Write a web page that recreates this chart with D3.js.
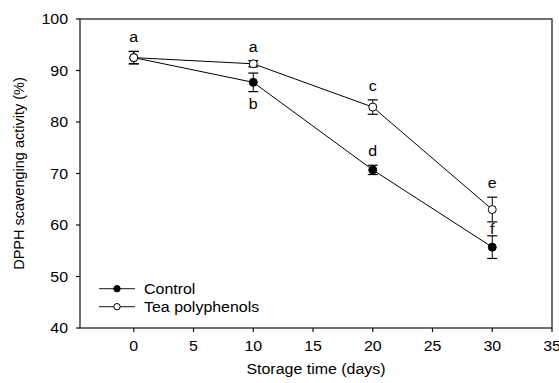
<!DOCTYPE html>
<html><head><meta charset="utf-8">
<script src="https://cdn.jsdelivr.net/npm/d3@7"></script>
<style>html,body{margin:0;padding:0;background:#fff;}</style>
</head><body>
<script>
const days = [0, 10, 20, 30];
const controlMean = [92.5, 87.7, 70.7, 55.7];
const controlErr = [1.2, 1.8, 0.9, 2.2];
const teaMean = [92.5, 91.3, 82.9, 63.0];
const teaErr = [1.2, 0.6, 1.4, 2.4];
const xTicks = [0, 5, 10, 15, 20, 25, 30, 35];
const yTicks = [40, 50, 60, 70, 80, 90, 100];
const seriesNames = ["Control", "Tea polyphenols"];
// significance letters: series, day index, letter, side
const letters = [
  {s: 1, i: 0, t: "a", side: "above"},
  {s: 1, i: 1, t: "a", side: "above"},
  {s: 0, i: 1, t: "b", side: "below"},
  {s: 1, i: 2, t: "c", side: "above"},
  {s: 0, i: 2, t: "d", side: "above"},
  {s: 1, i: 3, t: "e", side: "above"},
  {s: 0, i: 3, t: "f", side: "between"}
];

const W = 559, H = 383;
const m = {left: 80, right: 7, top: 19, bottom: 55};
const FS = 14.5, SX = 1.1;
const font = "'Liberation Sans', Arial, sans-serif";

const svg = d3.select("body").append("svg").attr("width", W).attr("height", H);
const x = d3.scaleLinear().domain([-4.5, 35]).range([m.left, W - m.right]);
const y = d3.scaleLinear().domain([40, 100]).range([H - m.bottom, m.top]);

function htext(g, px, py, str, anchor) {
  return g.append("text").attr("transform", `translate(${px},${py}) scale(${SX},1)`)
    .attr("text-anchor", anchor || "middle").attr("font-family", font)
    .attr("font-size", FS).attr("fill", "#000").text(str);
}

// frame
svg.append("rect").attr("x", m.left).attr("y", m.top)
  .attr("width", W - m.right - m.left).attr("height", H - m.bottom - m.top)
  .attr("fill", "none").attr("stroke", "#111").attr("stroke-width", 1.2);

// y axis
const gy = svg.append("g");
yTicks.forEach(v => {
  gy.append("line").attr("x1", m.left - 4).attr("x2", m.left).attr("y1", y(v)).attr("y2", y(v))
    .attr("stroke", "#111").attr("stroke-width", 1.2);
  htext(gy, m.left - 12, y(v) + 5, String(v), "end");
});
// x axis
const gx = svg.append("g");
xTicks.forEach(v => {
  gx.append("line").attr("x1", x(v)).attr("x2", x(v)).attr("y1", H - m.bottom).attr("y2", H - m.bottom + 4)
    .attr("stroke", "#111").attr("stroke-width", 1.2);
  htext(gx, x(v), H - m.bottom + 23, String(v), "middle");
});

htext(svg, (m.left + W - m.right) / 2, 374, "Storage time (days)", "middle");
svg.append("text").attr("transform", `translate(24,${(m.top + H - m.bottom) / 2}) rotate(-90)`)
  .attr("text-anchor", "middle").attr("font-family", font).attr("font-size", FS)
  .attr("fill", "#000").text("DPPH scavenging activity (%)");

const series = [
  {mean: controlMean, err: controlErr, fill: "#000"},
  {mean: teaMean, err: teaErr, fill: "#fff"}
];
const line = d3.line().x((d, i) => x(days[i])).y(d => y(d));
const cap = 5;
series.forEach(s => {
  svg.append("path").attr("d", line(s.mean)).attr("fill", "none").attr("stroke", "#000").attr("stroke-width", 1);
});
series.forEach(s => {
  const g = svg.append("g");
  s.mean.forEach((v, i) => {
    const cx = x(days[i]), t = y(v + s.err[i]), b = y(v - s.err[i]);
    g.append("line").attr("x1", cx).attr("x2", cx).attr("y1", t).attr("y2", b).attr("stroke", "#000").attr("stroke-width", 1);
    [t, b].forEach(yy => g.append("line").attr("x1", cx - cap).attr("x2", cx + cap).attr("y1", yy).attr("y2", yy)
      .attr("stroke", "#000").attr("stroke-width", 1.2));
  });
  s.mean.forEach((v, i) => {
    g.append("circle").attr("cx", x(days[i])).attr("cy", y(v)).attr("r", 4)
      .attr("fill", s.fill).attr("stroke", "#000").attr("stroke-width", 1);
  });
});

letters.forEach(L => {
  const s = series[L.s], v = s.mean[L.i], e = s.err[L.i];
  let by;
  if (L.side === "above") by = y(v + e) - 9;
  else if (L.side === "below") by = y(v - e) + 17;
  else {
    const o = series[1 - L.s];
    const top = Math.max(y(s.mean[L.i] + e), y(o.mean[L.i] + o.err[L.i]));
    const a = y(o.mean[L.i] - o.err[L.i]), b2 = y(s.mean[L.i] + e);
    by = (a + b2) / 2 + 5.5;
  }
  htext(svg, x(days[L.i]), by, L.t, "middle");
});

// legend
const lg = svg.append("g");
series.forEach((s, k) => {
  const ly = 288.7 + k * 18;
  lg.append("line").attr("x1", 99).attr("x2", 135).attr("y1", ly).attr("y2", ly).attr("stroke", "#444").attr("stroke-width", 1.2);
  lg.append("circle").attr("cx", 117).attr("cy", ly).attr("r", 3.2).attr("fill", s.fill).attr("stroke", "#000").attr("stroke-width", 1);
  htext(lg, 144, ly + 5, seriesNames[k], "start");
});
</script>
</body></html>
